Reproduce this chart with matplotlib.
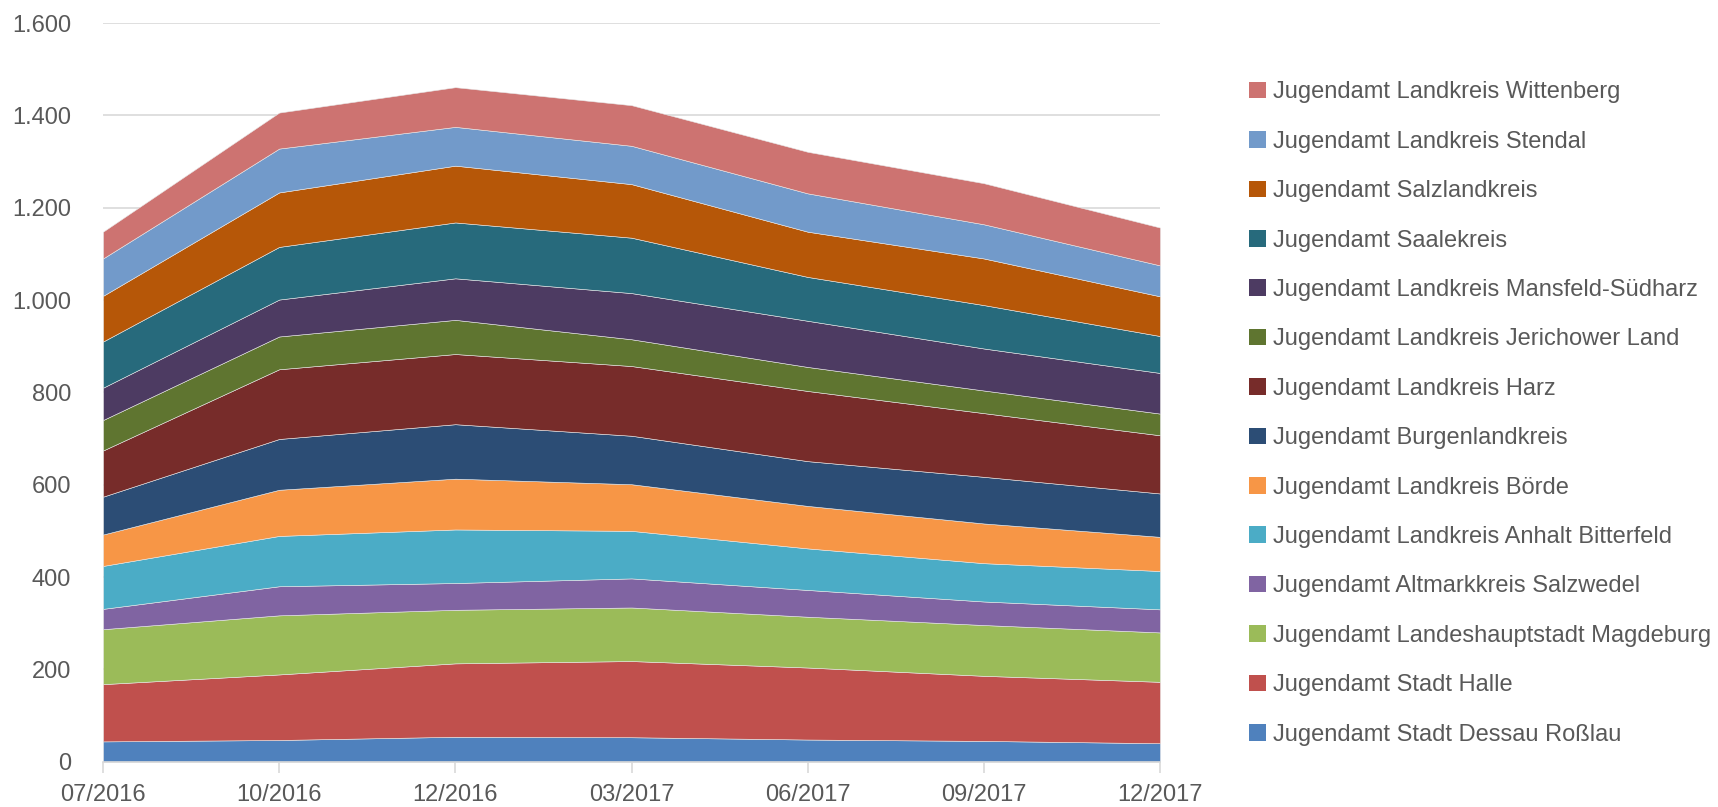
import numpy as np
import matplotlib
matplotlib.use("Agg")
import matplotlib.pyplot as plt
from matplotlib.patches import Patch
from matplotlib.ticker import FuncFormatter

# --- data --- #
months = ["07/2016", "10/2016", "12/2016", "03/2017", "06/2017", "09/2017", "12/2017"]

dessau      = [44, 47, 54, 53, 48, 45, 40]
halle       = [124, 142, 159, 165, 156, 141, 133]
magdeburg   = [119, 128, 116, 116, 110, 110, 107]
salzwedel   = [44, 63, 58, 63, 58, 51, 50]
anhalt      = [93, 109, 116, 103, 90, 83, 83]
boerde      = [68, 100, 110, 101, 92, 86, 74]
burgen      = [82, 110, 118, 105, 97, 101, 94]
harz        = [100, 151, 152, 151, 152, 138, 126]
jerichow    = [66, 71, 74, 58, 52, 49, 47]
mansfeld    = [70, 80, 90, 100, 100, 91, 88]
saalekreis  = [100, 114, 121, 120, 95, 94, 80]
salzland    = [99, 118, 123, 116, 98, 101, 86]
stendal     = [81, 95, 84, 83, 83, 74, 67]
wittenberg  = [58, 78, 86, 88, 90, 89, 82]

labels = [
    "Jugendamt Stadt Dessau Roßlau",
    "Jugendamt Stadt Halle",
    "Jugendamt Landeshauptstadt Magdeburg",
    "Jugendamt Altmarkkreis Salzwedel",
    "Jugendamt Landkreis Anhalt Bitterfeld",
    "Jugendamt Landkreis Börde",
    "Jugendamt Burgenlandkreis",
    "Jugendamt Landkreis Harz",
    "Jugendamt Landkreis Jerichower Land",
    "Jugendamt Landkreis Mansfeld-Südharz",
    "Jugendamt Saalekreis",
    "Jugendamt Salzlandkreis",
    "Jugendamt Landkreis Stendal",
    "Jugendamt Landkreis Wittenberg",
]
series = [dessau, halle, magdeburg, salzwedel, anhalt, boerde, burgen,
          harz, jerichow, mansfeld, saalekreis, salzland, stendal, wittenberg]
colors = ["#4F81BD", "#C0504D", "#9BBB59", "#8064A2", "#4BACC6", "#F79646",
          "#2C4D75", "#772C2A", "#5F7530", "#4D3B62", "#276A7C", "#B65708",
          "#729ACA", "#CD7371"]

# --- plotting --- #
plt.rcParams['font.family'] = ['Liberation Sans', 'DejaVu Sans']
grey = "#595959"

fig = plt.figure(figsize=(17.18, 8.07), dpi=100)
ax = fig.add_axes([103/1718, 1-761.7/807, (1160-103)/1718, (761.7-23)/807])

x = np.arange(len(months))
ax.stackplot(x, *series, colors=colors, labels=labels,
             edgecolor="#e8e8e8", linewidth=0.4)

ax.set_xlim(0, len(months)-1)
ax.set_ylim(0, 1600)
ax.set_yticks(np.arange(0, 1601, 200))
ax.yaxis.set_major_formatter(FuncFormatter(lambda v, p: f"{int(v):,}".replace(",", ".")))
ax.set_xticks(x)
ax.set_xticklabels(months)

ax.yaxis.grid(True, color="#d9d9d9", linewidth=1.2)
ax.set_axisbelow(True)
for s in ["top", "right", "left"]:
    ax.spines[s].set_visible(False)
ax.spines["bottom"].set_color("#d9d9d9")
ax.spines["bottom"].set_linewidth(1.2)
ax.tick_params(axis="y", length=0, pad=23, labelsize=17, labelcolor=grey)
ax.tick_params(axis="x", length=8, color="#d9d9d9", width=1.2, pad=8,
               labelsize=17, labelcolor=grey)

handles = [Patch(facecolor=c, edgecolor="none") for c in colors][::-1]
fig.legend(handles, labels[::-1], loc="upper left",
           bbox_to_anchor=(1240/1718, 1-72/807), frameon=False,
           fontsize=17, labelcolor=grey, handlelength=0.7, handleheight=0.7,
           handletextpad=0.3, labelspacing=1.16, borderaxespad=0)

fig.savefig("out.png", dpi=100)
